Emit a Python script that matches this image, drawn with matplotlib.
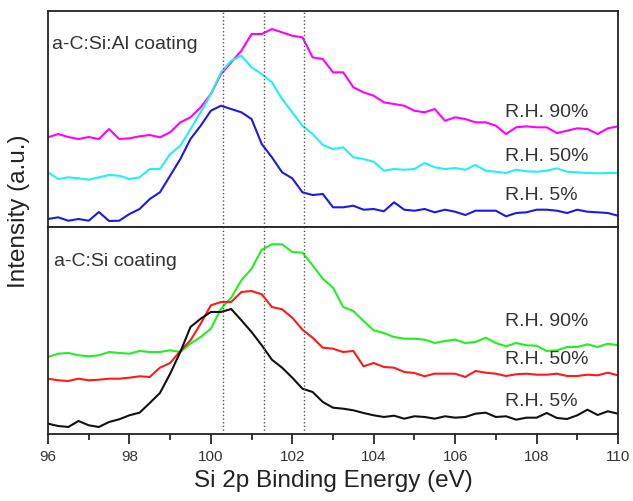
import matplotlib
matplotlib.use("Agg")
import matplotlib.pyplot as plt
import numpy as np

plt.rcParams['font.family'] = ['Liberation Sans', 'DejaVu Sans']

# binding energy grid (eV)
energy = np.arange(96, 110.001, 0.25)

# a-C:Si:Al coating (arb. units)
al_rh90 = [89.7, 93, 90, 88, 90, 88, 98, 88, 88.7, 90.7, 92, 89.7, 94.7, 104.7, 109.7, 119.7,
           133, 153, 164.7, 176.3, 193, 193, 198, 194.7, 191.3, 189.7, 169.7, 168, 154.7, 154.7,
           139.7, 134.7, 131.3, 124.7, 123, 121.3, 116.3, 114.7, 118, 106.3, 109.7, 108, 104.7,
           104.7, 101.3, 93, 99.7, 100.7, 99.7, 99.7, 94, 96.3, 98.7, 98, 93, 98.7, 100.7]
al_rh50 = [54.7, 48, 49.7, 48.7, 47.3, 49.7, 52, 51.3, 48, 49.7, 58, 58, 73, 81.3, 98, 114.7,
           133, 154.7, 166.3, 171.3, 159.7, 153, 144.7, 128, 114.7, 101.3, 93, 82, 78, 79.7,
           69.7, 68, 65.3, 56.3, 58, 57.3, 58, 64, 59.7, 58, 59, 57.3, 62, 56.3, 55.3, 54,
           57.3, 55.7, 55.3, 56.3, 58.7, 55.3, 54.7, 54, 53.7, 54, 54]
al_rh5 = [8, 9.7, 6.3, 8, 6.3, 15, 6, 6.3, 13, 18, 28, 34.7, 51.3, 68, 88, 101.3,
          116.3, 121.3, 118, 114.7, 108, 83, 69.7, 54.7, 48.7, 34.7, 32, 33, 19.7, 19.7,
          21.3, 17.3, 18, 15.7, 24.7, 17.3, 16.3, 18, 14.7, 17.3, 15.3, 12, 16.3, 16.3, 16.3,
          10.7, 14, 14.7, 17.3, 17.3, 16.3, 14, 17.3, 15.3, 14.7, 14, 11.3]

# a-C:Si coating (arb. units)
si_rh90 = [75, 78.3, 79, 76.7, 75.7, 76.7, 80, 79, 78.3, 81, 80, 80, 81.7, 80, 88.3, 95,
           103.3, 123.3, 134.3, 151.7, 163.3, 182.3, 187.7, 187.7, 180, 179.3, 166.7, 153.3,
           144.3, 125, 121, 111, 101.7, 99, 95, 93.3, 93.3, 92.3, 89, 91, 92.3, 89, 90, 94.3,
           89, 85.7, 89, 86.7, 86.3, 81, 81.7, 85, 85, 87.7, 85, 88.3, 86.7]
si_rh50 = [53.3, 51.7, 51, 53.3, 51.7, 52.3, 53.3, 53.3, 54.3, 55.7, 55, 64.3, 69, 81, 91.7,
           108.3, 126.7, 130, 130, 140, 141, 137.7, 125, 122.7, 114.3, 102.3, 94.3, 84.3, 83.3,
           80, 81, 65.7, 69, 65, 64.3, 60, 59, 55.7, 58.3, 58.3, 58.3, 55, 61, 59.3, 58.3, 56,
           57.7, 58.3, 57.3, 57.3, 58.3, 56, 56, 57.3, 56.7, 59.3, 56.7]
si_rh5 = [8.3, 6, 5, 11, 6.7, 5, 10, 12.7, 16.7, 19.3, 29, 39, 58.3, 80, 105, 113.3,
          120, 120, 123, 111.7, 100, 86.7, 72.3, 64.3, 54.3, 43.3, 40, 30, 24.3, 23.3, 21.7,
          19, 16.7, 15, 16.3, 13.3, 15.7, 15, 13.3, 15.7, 14.3, 15, 18.3, 19.3, 15, 15.7, 12.3,
          14.3, 14.3, 19, 14, 13, 16.7, 22.3, 17, 20.7, 18.3]

ref_lines = [100.3, 101.3, 102.3]
rh_labels = ["R.H. 90%", "R.H. 50%", "R.H. 5%"]

fig = plt.figure(figsize=(6.33, 5.02), dpi=100)
ax1 = fig.add_axes([0.0758, 0.5458, 0.9005, 0.4302])
ax2 = fig.add_axes([0.0758, 0.1335, 0.9005, 0.4123])

ax1.plot(energy, al_rh90, color='#ff00ff', lw=1.5)
ax1.plot(energy, al_rh50, color='#22f0f0', lw=1.5)
ax1.plot(energy, al_rh5, color='#1a1ae6', lw=1.5)
ax2.plot(energy, si_rh90, color='#22ee22', lw=1.5)
ax2.plot(energy, si_rh50, color='#ff1a1a', lw=1.5)
ax2.plot(energy, si_rh5, color='#111111', lw=1.5)

for ax in (ax1, ax2):
    for e in ref_lines:
        ax.axvline(e, color='#555555', ls=':', lw=1)
    ax.set_xlim(96, 110)
    ax.set_yticks([])
    for s in ax.spines.values():
        s.set_linewidth(1.3)
        s.set_color('#222222')

ax1.set_ylim(0, 216)
ax2.set_ylim(-2, 205)
ax1.set_xticks([])

ax2.set_xticks(np.arange(96, 111, 2))
ax2.set_xticks(np.arange(97, 110, 2), minor=True)
ax2.tick_params(axis='x', which='major', direction='out', length=7, width=1.1,
                labelsize=11, labelcolor='#333333', pad=4)
ax2.tick_params(axis='x', which='minor', direction='out', length=4, width=1.1)

ax1.text(96.1, 184, "a-C:Si:Al coating", fontsize=14, color='#333333', va='center')
ax2.text(96.15, 172, "a-C:Si coating", fontsize=14, color='#333333', va='center')

for lab, y in zip(rh_labels, [116, 72, 33]):
    ax1.text(107.23, y, lab, fontsize=14, color='#333333', va='center')
for lab, y in zip(rh_labels, [111.5, 73, 31]):
    ax2.text(107.23, y, lab, fontsize=14, color='#333333', va='center')

ax2.set_xlabel("Si 2p Binding Energy (eV)", fontsize=17.5, color='#222222', labelpad=4)
fig.text(0.030, 0.579, "Intensity (a.u.)", rotation=90, fontsize=17.5, color='#222222',
         ha='center', va='center')

fig.savefig("out.png", dpi=100)
